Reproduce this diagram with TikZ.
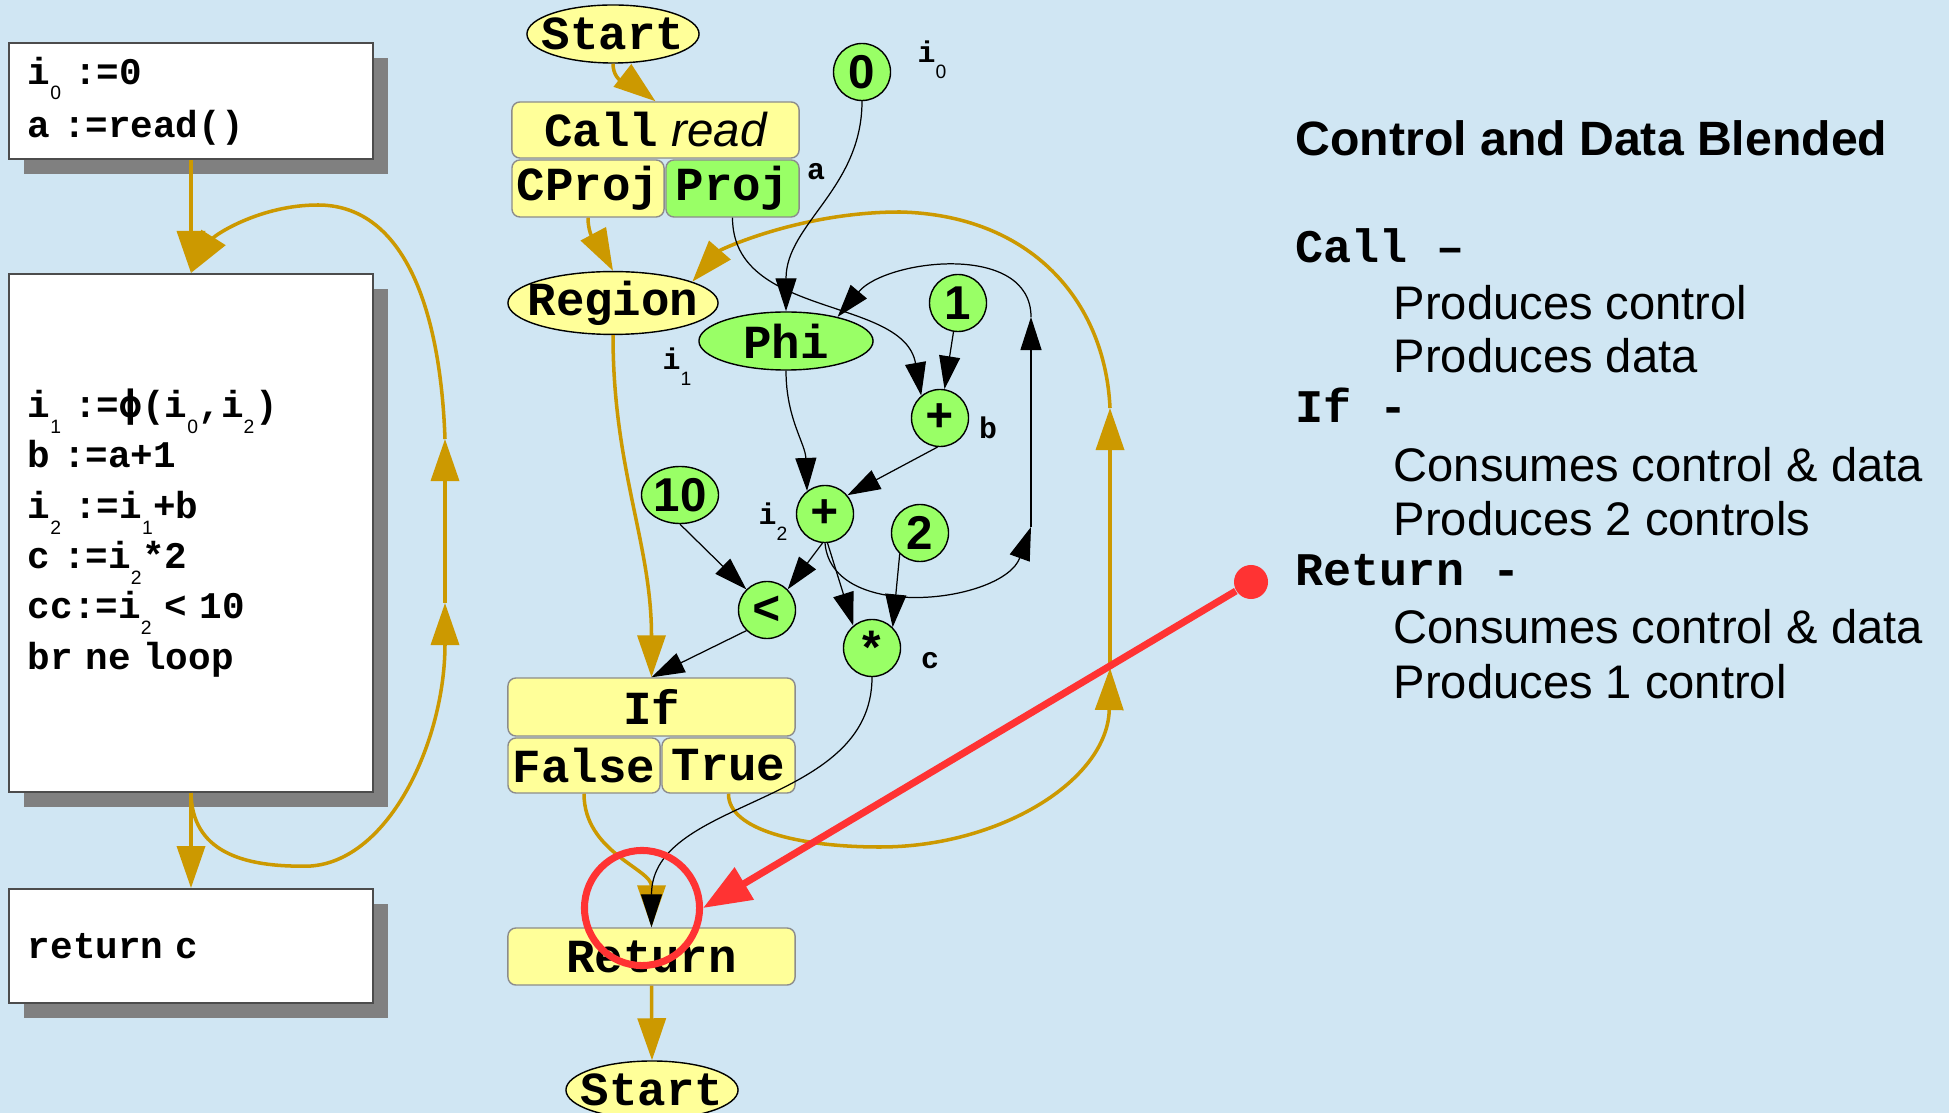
\documentclass[tikz,border=0pt]{standalone}
\usepackage{fontspec}
\setmainfont{Liberation Sans}
\setsansfont{Liberation Sans}
\setmonofont{Liberation Mono}
\newfontfamily\phifont{DejaVu Sans Mono}
\usetikzlibrary{shapes.geometric,arrows.meta,shadows}

\definecolor{bgblue}{RGB}{208,230,243}
\definecolor{lightyel}{RGB}{255,255,153}
\definecolor{litegreen}{RGB}{153,255,102}
\definecolor{ctrlcol}{RGB}{204,153,0}
\definecolor{hired}{RGB}{255,51,51}

\newcommand{\nodefont}{\fontsize{13.5}{16}\selectfont\ttfamily\bfseries}
\newcommand{\numfont}{\fontsize{13.5}{16}\selectfont\sffamily\bfseries}
\newcommand{\lowsub}[1]{\makebox[0.3em][l]{\raisebox{-4.5pt}{\normalfont\fontsize{5.5}{6}\selectfont #1}}}
\newcommand{\zw}[1]{\makebox[0pt]{#1}}

\tikzset{
  code/.style={rectangle, draw=black!70, fill=white, line width=.5pt,
    text width=3.26cm, inner xsep=.19cm, inner ysep=0pt, align=left,
    font=\fontsize{10.7}{14.3}\selectfont\ttfamily\bfseries,
    drop shadow={shadow xshift=.15cm, shadow yshift=-.15cm, opacity=1, fill=black!50}},
  ctrl/.style={draw=ctrlcol, line width=1pt, -{Triangle[length=.42cm,width=.28cm]}},
  data/.style={draw=black, line width=.35pt, -{Triangle[length=.33cm,width=.21cm]}}
}

\begin{document}
\begin{tikzpicture}[x=0.01cm,y=-0.01cm]

      \fill[bgblue] (0,0) rectangle (1949,1113);
      \useasboundingbox (0,0) rectangle (1949,1113);

      \node[code, minimum height=1.16cm] (blk0) at (191,101) {i\lowsub{0} :=0\\[.8pt] a :=read()};
      \node[code, minimum height=5.18cm] (blk1) at (191,533) {i\lowsub{1} :={\phifont ϕ}(i\lowsub{0},i\lowsub{2})\\ b :=a+1\\ i\lowsub{2} :=i\lowsub{1}+b\\ c :=i\lowsub{2}*2\\ cc:=i\lowsub{2} < 10\\ br ne loop};
      \node[code, minimum height=1.14cm] (blk2) at (191,946) {return c};

      \begin{scope}[every node/.style={ellipse, draw, fill=lightyel, inner sep=0pt, minimum height=.58cm, font=\nodefont}]
        \node[minimum width=1.72cm] (start) at (613,34) {\zw{Start}};
        \node[minimum width=2.10cm] (region) at (613,303) {\zw{Region}};
        \node[minimum width=1.72cm] (stop) at (652,1090) {\zw{Start}};
      \end{scope}

      \begin{scope}[every node/.style={rectangle, rounded corners=.08cm, draw=black!45, fill=lightyel, inner sep=0pt, font=\nodefont}]
        \node[minimum width=2.87cm, minimum height=.56cm] (call) at (655.5,130) {Call{\normalfont\itshape\ read}};
        \node[minimum width=1.52cm, minimum height=.57cm] (cproj) at (588,188.5) {CProj};
        \node[minimum width=1.33cm, minimum height=.57cm, fill=litegreen] (proj) at (732.5,188.5) {Proj};
        \node[minimum width=2.87cm, minimum height=.58cm] (ifn) at (651.5,707) {If};
        \node[minimum width=1.52cm, minimum height=.55cm] (false) at (584,765.5) {False};
        \node[minimum width=1.33cm, minimum height=.55cm] (true) at (728.5,765.5) {True};
        \node[minimum width=2.87cm, minimum height=.57cm] (ret) at (651.5,956.5) {Return};
      \end{scope}

      \begin{scope}[every node/.style={ellipse, draw, fill=litegreen, inner sep=0pt, minimum width=.57cm, minimum height=.57cm, font=\nodefont}]
        \node[minimum width=1.74cm, minimum height=.58cm] (phi) at (786,341) {Phi};
        \node[font=\numfont] (c0) at (862,72) {0};
        \node[font=\numfont] (c1) at (958,303) {1};
        \node (addb) at (940,418) {+};
        \node (addi) at (825,514) {+};
        \node[font=\numfont, minimum width=.77cm] (c10) at (680,495) {10};
        \node (less) at (767,610) {<};
        \node[font=\numfont] (c2) at (920,533) {2};
        \node (mul) at (872,648) {*};
      \end{scope}

      \begin{scope}[every node/.style={inner sep=0pt, font=\fontsize{8.5}{10}\selectfont\ttfamily\bfseries}]
        \node[anchor=base] (la) at (816,180) {a};
        \node[anchor=base west] (li0) at (917,63) {i\lowsub{0}};
        \node[anchor=base west] (li1) at (662,370) {i\lowsub{1}};
        \node[anchor=base west] (li2) at (758,525) {i\lowsub{2}};
        \node[anchor=base] (lb) at (988,439) {b};
        \node[anchor=base] (lc) at (930,668) {c};
      \end{scope}

      \begin{scope}[every node/.style={anchor=base west, inner sep=0pt, font=\fontsize{13.4}{16}\selectfont}]
        \node[font=\fontsize{13.7}{16}\selectfont\bfseries] (title) at (1295,156) {Control and Data Blended};
        \node[font=\fontsize{13.3}{16}\selectfont\ttfamily\bfseries] (kcall) at (1295,263) {Call –};
        \node (kcall1) at (1393,320) {Produces control};
        \node (kcall2) at (1393,373) {Produces data};
        \node[font=\fontsize{13.3}{16}\selectfont\ttfamily\bfseries] (kif) at (1295,423) {If -};
        \node (kif1) at (1393,482) {Consumes control \& data};
        \node (kif2) at (1393,536) {Produces 2 controls};
        \node[font=\fontsize{13.3}{16}\selectfont\ttfamily\bfseries] (kret) at (1295,586) {Return -};
        \node (kret1) at (1393,643) {Consumes control \& data};
        \node (kret2) at (1393,698) {Produces 1 control};
      \end{scope}

      \coordinate (dlo) at (1031,527);
      \coordinate (dup) at (1031,317);
      \coordinate (tlo) at (1110,668);
      \coordinate (tup) at (1110,408);
      \coordinate (llo) at (445,603);
      \coordinate (lup) at (445,439);

      \begin{scope}[every edge/.style={ctrl}]
        \path (start.south) edge[out=-90,in=142] (call.north);
        \path (cproj.south) edge[out=-90,in=118] (region.north);
        \path (region.south) edge[out=-90,in=90] (ifn.north);
        \path (false.south) edge[out=-90,in=90] (ret.north);
        \path (tlo) edge (tup);
        \path (ret.south) edge (stop.north);
        \path (blk0.south) edge (blk1.north);
        \path (blk1.south) edge (blk2.north);
        \path (llo) edge (lup);
      \end{scope}
      \draw[ctrl] (true.south) .. controls (728,830) and (800,847) .. (880,847) .. controls (1000,847) and (1108,780) .. (tlo);
      \draw[ctrl] (tup) .. controls (1105,300) and (1030,215) .. (900,212) .. controls (800,212) and (720,250) .. (region.15);
      \draw[ctrl] (blk1.south) .. controls (192,850) and (240,868) .. (311,866) .. controls (390,860) and (445,740) .. (llo);
      \draw[ctrl] (lup) .. controls (440,300) and (400,205) .. (318,205) .. controls (260,205) and (215,235) .. (blk1.north);

      \begin{scope}[every edge/.style={data}]
        \path (c0) edge[out=-90,in=90] (phi);
        \path (proj.south) edge[out=-90,in=100] (addb.130);
        \path (c1) edge (addb);
        \path (phi.south) edge[out=-90,in=92] (addi.128);
        \path (addb.265) edge (addi.40);
        \path (c10.south) edge (less.135);
        \path (addi.265) edge (less.45);
        \path (addi.275) edge (mul.130);
        \path (c2.226) edge (mul.45);
        \path (less.225) edge (ifn.north);
        \path (mul.south) edge[out=-90,in=90] (ret.north);
        \path (addi.south) edge[out=-85,in=-110] (dlo);
        \path (dlo) edge (dup);
        \path (dup) edge[out=90,in=50] (phi.25);
      \end{scope}

      \node[circle, fill=hired, inner sep=0pt, minimum size=.34cm] (pin) at (1251,582) {};
      \node[circle, draw=hired, line width=2pt, inner sep=0pt, minimum size=1.15cm] (ring) at (642,908) {};
      \draw[hired, line width=2pt, -{Triangle[length=.48cm,width=.36cm]}] (pin) -- (ring.east);

    \end{tikzpicture}
\end{document}
